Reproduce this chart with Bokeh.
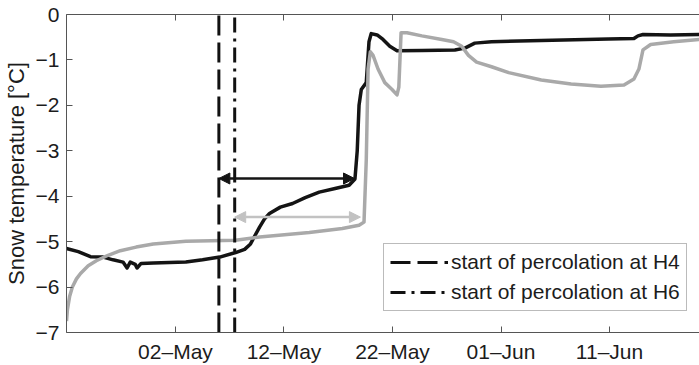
import pandas as pd
from bokeh.plotting import figure
from bokeh.models import (Range1d, FixedTicker, DatetimeTickFormatter, CustomJSTickFormatter,
                          Arrow, NormalHead, Legend, LegendItem, DatetimeAxis)
from bokeh.embed import file_html
from bokeh.resources import INLINE

# Snow temperature record (two sensors), values in degrees C
dark_time = ["2010-04-21 23:00", "2010-04-23 01:00", "2010-04-24 04:00", "2010-04-25 08:00",
             "2010-04-26 06:00", "2010-04-27 04:00", "2010-04-27 13:00", "2010-04-27 20:00",
             "2010-04-28 07:00", "2010-04-28 11:00", "2010-04-28 20:00", "2010-04-29 23:00",
             "2010-05-02 23:00", "2010-05-04 12:00", "2010-05-06 02:00", "2010-05-07 13:00",
             "2010-05-08 09:00", "2010-05-08 22:00", "2010-05-09 07:00", "2010-05-09 18:00",
             "2010-05-10 05:00", "2010-05-10 16:00", "2010-05-11 16:00", "2010-05-12 19:00",
             "2010-05-13 23:00", "2010-05-15 06:00", "2010-05-16 17:00", "2010-05-18 00:00",
             "2010-05-18 13:00", "2010-05-18 18:00", "2010-05-18 22:00", "2010-05-19 03:00",
             "2010-05-19 14:00", "2010-05-19 20:00", "2010-05-20 01:00", "2010-05-20 14:00",
             "2010-05-21 03:00", "2010-05-21 18:00", "2010-05-22 10:00", "2010-05-24 17:00",
             "2010-05-27 18:00", "2010-05-28 16:00", "2010-05-29 14:00", "2010-05-31 03:00",
             "2010-06-04 17:00", "2010-06-10 21:00", "2010-06-13 06:00", "2010-06-13 15:00",
             "2010-06-14 02:00", "2010-06-16 15:00", "2010-06-19 07:00"]
dark_temp = [-5.15, -5.22, -5.33, -5.34,
             -5.40, -5.45, -5.58, -5.45,
             -5.50, -5.58, -5.48, -5.47,
             -5.45, -5.40, -5.34, -5.24,
             -5.17, -5.05, -4.88, -4.68,
             -4.50, -4.38, -4.24, -4.16,
             -4.03, -3.91, -3.83, -3.76,
             -3.62, -3.00, -2.00, -1.65,
             -1.50, -0.60, -0.42, -0.45,
             -0.55, -0.70, -0.80, -0.79,
             -0.78, -0.74, -0.63, -0.60,
             -0.57, -0.54, -0.53, -0.47,
             -0.44, -0.45, -0.44]

grey_time = ["2010-04-21 23:00", "2010-04-22 01:00", "2010-04-22 06:00", "2010-04-22 12:00",
             "2010-04-22 21:00", "2010-04-23 06:00", "2010-04-23 23:00", "2010-04-24 17:00",
             "2010-04-25 19:00", "2010-04-26 22:00", "2010-04-28 09:00", "2010-04-29 23:00",
             "2010-05-02 23:00", "2010-05-07 13:00", "2010-05-09 18:00", "2010-05-14 08:00",
             "2010-05-17 09:00", "2010-05-18 22:00", "2010-05-19 09:00", "2010-05-19 14:00",
             "2010-05-19 18:00", "2010-05-19 23:00", "2010-05-20 05:00", "2010-05-20 16:00",
             "2010-05-21 07:00", "2010-05-21 23:00", "2010-05-22 10:00", "2010-05-22 14:00",
             "2010-05-22 19:00", "2010-05-23 08:00", "2010-05-24 17:00", "2010-05-26 13:00",
             "2010-05-27 15:00", "2010-05-28 09:00", "2010-05-29 00:00", "2010-05-29 18:00",
             "2010-05-31 03:00", "2010-06-01 17:00", "2010-06-04 17:00", "2010-06-07 11:00",
             "2010-06-10 05:00", "2010-06-12 08:00", "2010-06-13 06:00", "2010-06-13 17:00",
             "2010-06-14 02:00", "2010-06-14 19:00", "2010-06-16 22:00", "2010-06-19 07:00"]
grey_temp = [-6.75, -6.50, -6.20, -6.00,
             -5.82, -5.70, -5.53, -5.42,
             -5.30, -5.20, -5.12, -5.05,
             -4.99, -4.97, -4.90, -4.80,
             -4.71, -4.64, -4.57, -3.20,
             -1.20, -0.82, -0.90, -1.20,
             -1.50, -1.65, -1.77, -1.60,
             -0.40, -0.40, -0.47, -0.55,
             -0.60, -0.70, -0.90, -1.05,
             -1.15, -1.28, -1.44, -1.53,
             -1.58, -1.55, -1.42, -1.20,
             -0.78, -0.66, -0.60, -0.55]

# Onset of percolation and lag arrows
perc_labels = ["start of percolation at H4", "start of percolation at H6"]
perc_time = ["2010-05-06 00:00", "2010-05-07 11:00"]
lag_dark = ("2010-05-06 00:00", "2010-05-18 12:00", -3.61)
lag_grey = ("2010-05-07 11:00", "2010-05-19 01:00", -4.46)

x_limits = ("2010-04-21 23:00", "2010-06-19 07:00")
y_limits = (-7, 0)
x_ticks = ["2010-05-02", "2010-05-12", "2010-05-22", "2010-06-01", "2010-06-11"]
y_ticks = [-7, -6, -5, -4, -3, -2, -1, 0]


def ms(s):
    return pd.Timestamp(s).timestamp() * 1000.0


FONT = "Liberation Sans"
TXT = "#1c1c1c"
AXC = "#555555"
DARK = "#141414"
GREY = "#a9a9a9"
GREY_ARROW = "#c2c2c2"

p = figure(width=699, height=365, x_axis_type="datetime",
           x_range=Range1d(ms(x_limits[0]), ms(x_limits[1])),
           y_range=Range1d(*y_limits),
           output_backend="svg", toolbar_location=None,
           min_border_left=63, min_border_right=0, min_border_top=14, min_border_bottom=33,
           background_fill_color="white", border_fill_color="white")
p.outline_line_color = None
p.grid.visible = False

xt = FixedTicker(ticks=[ms(t) for t in x_ticks])
fmt = "%d\u2013%b"
p.xaxis.ticker = xt
p.xaxis.formatter = DatetimeTickFormatter(days=fmt, months=fmt, hours=fmt, years=fmt)
p.yaxis.ticker = FixedTicker(ticks=y_ticks)
p.yaxis.formatter = CustomJSTickFormatter(
    code="return tick < 0 ? '\\u2212' + Math.abs(tick) : String(tick);")
p.yaxis.axis_label = "Snow temperature [\u00b0C]"

for ax in (p.xaxis[0], p.yaxis[0]):
    ax.major_label_text_font = FONT
    ax.major_label_text_font_size = "21px"
    ax.major_label_text_color = TXT
    ax.axis_line_color = AXC
    ax.major_tick_line_color = AXC
    ax.major_tick_in = 6
    ax.major_tick_out = 0
    ax.minor_tick_line_color = None
p.xaxis.major_label_standoff = 7
p.yaxis.major_label_standoff = 7
p.yaxis.axis_label_text_font = FONT
p.yaxis.axis_label_text_font_size = "22px"
p.yaxis.axis_label_text_font_style = "normal"
p.yaxis.axis_label_text_color = TXT
p.yaxis.axis_label_standoff = 4

top = DatetimeAxis(ticker=xt, axis_line_color=AXC, major_tick_line_color=AXC,
                   major_tick_in=6, major_tick_out=0, minor_tick_line_color=None,
                   major_label_text_font_size="0px", major_label_standoff=0,
                   formatter=CustomJSTickFormatter(code="return '';"))
p.add_layout(top, "above")

p.line(pd.to_datetime(dark_time), dark_temp, line_color=DARK, line_width=3.5, line_join="round")
p.line(pd.to_datetime(grey_time), grey_temp, line_color=GREY, line_width=3.5, line_join="round")

for start, end, y, col in ((lag_dark[0], lag_dark[1], lag_dark[2], DARK),
                           (lag_grey[0], lag_grey[1], lag_grey[2], GREY_ARROW)):
    p.add_layout(Arrow(x_start=ms(start), y_start=y, x_end=ms(end), y_end=y,
                       line_color=col, line_width=2.5,
                       start=NormalHead(size=11, fill_color=col, line_color=col),
                       end=NormalHead(size=11, fill_color=col, line_color=col)))

dashes = ["20 7", "15 6 3 6"]
items = []
for lbl, t, dash in zip(perc_labels, perc_time, dashes):
    tt = pd.to_datetime([t, t])
    r = p.line(tt, list(y_limits), line_color="#111111", line_width=3, line_dash=dash)
    items.append(LegendItem(label=lbl, renderers=[r]))

legend = Legend(items=items, location=(317, 21), glyph_width=58, glyph_height=22,
                label_standoff=3, padding=6, spacing=6, margin=0,
                label_text_font=FONT, label_text_font_size="21px", label_text_color=TXT,
                border_line_color="#777777", border_line_width=1,
                background_fill_color="white", background_fill_alpha=1.0)
p.add_layout(legend)

open("out.html", "w").write(file_html(p, INLINE))
